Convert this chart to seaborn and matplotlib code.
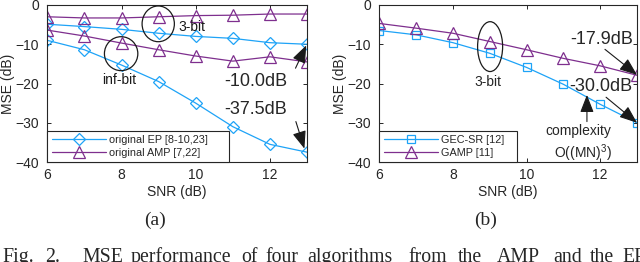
import numpy as np
import pandas as pd
import matplotlib
matplotlib.use("Agg")
import matplotlib.pyplot as plt
from matplotlib.patches import Ellipse
from matplotlib.lines import Line2D
import seaborn as sns

# ---------------- data ----------------
snr = [6, 7, 8, 9, 10, 11, 12, 13]
ep_3bit = [-4.9, -5.5, -6.2, -7.2, -8.0, -8.5, -9.6, -10.0]
ep_inf = [-9.0, -11.4, -15.3, -19.5, -25.0, -31.0, -35.5, -37.5]
amp_3bit = [-3.0, -3.3, -3.3, -3.0, -2.7, -2.6, -2.3, -2.3]
amp_inf = [-6.4, -7.9, -9.7, -11.4, -13.0, -14.3, -13.2, -14.5]
gamp = [-4.7, -5.9, -7.2, -9.3, -11.4, -13.6, -15.5, -17.9]
gec_sr = [-6.5, -7.6, -9.6, -12.3, -15.9, -20.2, -25.3, -30.0]

labels_a = ["original EP [8-10,23]", "original AMP [7,22]"]
labels_b = ["GEC-SR [12]", "GAMP [11]"]
xticks = [6, 8, 10, 12]
yticks = [0, -10, -20, -30, -40]

sns.set_theme(style="ticks")
plt.rcParams["font.family"] = ["Liberation Sans", "DejaVu Sans"]
plt.rcParams["mathtext.fontset"] = "custom"
plt.rcParams["mathtext.rm"] = "Liberation Sans"
plt.rcParams["mathtext.default"] = "regular"

BLUE = "#1ea3f7"
PURPLE = "#7e2f8e"
DARK = "#262626"

fig = plt.figure(figsize=(6.4, 2.62), dpi=100)
axA = fig.add_axes([47.3 / 640, 100 / 262, 259.7 / 640, 157 / 262])
axB = fig.add_axes([379.3 / 640, 100 / 262, 257.7 / 640, 157 / 262])

lw = 0.9
mew = 0.9


def series(ax, y, color, marker, ms):
    df = pd.DataFrame({"SNR": snr, "MSE": y})
    sns.lineplot(data=df, x="SNR", y="MSE", ax=ax, color=color, lw=lw,
                 marker=marker, ms=ms, mfc="none", mec=color, mew=mew,
                 legend=False)


series(axA, ep_3bit, BLUE, "D", 6.0)
series(axA, ep_inf, BLUE, "D", 6.0)
series(axA, amp_3bit, PURPLE, "^", 8.0)
series(axA, amp_inf, PURPLE, "^", 8.0)
series(axB, gec_sr, BLUE, "s", 6.0)
series(axB, gamp, PURPLE, "^", 8.0)

for ax in (axA, axB):
    ax.set_xlim(6, 13)
    ax.set_ylim(-40, 0)
    ax.set_xticks(xticks)
    ax.set_yticks(yticks)
    ax.tick_params(direction="in", length=3, width=0.7, colors=DARK,
                   labelsize=10, top=True, right=True)
    ax.tick_params(axis="x", pad=4.5)
    ax.tick_params(axis="y", pad=6)
    for s in ax.spines.values():
        s.set_visible(True)
        s.set_linewidth(0.8)
        s.set_color(DARK)
    ax.set_xlabel("SNR (dB)", fontsize=10, color=DARK)
    ax.set_ylabel("MSE (dB)", fontsize=10, color=DARK)
    ax.xaxis.set_label_coords(0.5, -0.148)
    ax.yaxis.set_label_coords(-0.125, 0.5)


def legend(ax, labels, markers, sizes, width):
    handles = [Line2D([], [], color=c, lw=lw, marker=m, ms=s, mfc="none",
                      mec=c, mew=mew)
               for c, m, s in zip([BLUE, PURPLE], markers, sizes)]
    leg = ax.legend(handles, labels, loc="lower left",
                    bbox_to_anchor=(0, 0, width, 0.22), mode="expand",
                    borderaxespad=0, fontsize=7.8, handlelength=5.0,
                    handletextpad=0.3, labelspacing=0.25, borderpad=0.4,
                    numpoints=1, fancybox=False, framealpha=1,
                    edgecolor=DARK)
    leg.get_frame().set_linewidth(0.8)
    for t in leg.get_texts():
        t.set_color(DARK)


legend(axA, labels_a, ["D", "^"], [6.0, 8.0], 0.70)
legend(axB, labels_b, ["s", "^"], [6.0, 8.0], 0.533)

# ---------------- annotations ----------------
arrow = dict(arrowstyle="-|>,head_length=0.9,head_width=0.35",
             mutation_scale=12, lw=0.8, color="k", shrinkA=0, shrinkB=0)

axA.add_patch(Ellipse((8.99, -4.8), 0.87, 9.1, fill=False, lw=0.9,
                      ec="k", zorder=5))
axA.add_patch(Ellipse((7.99, -12.4), 0.90, 8.65, fill=False, lw=0.9,
                      ec="k", zorder=5))
axA.text(9.53, -5.6, "3-bit", fontsize=10, ha="left", va="center", color="k")
axA.text(7.94, -19.1, "inf-bit", fontsize=10, ha="center", va="center",
         color="k")
axA.text(10.77, -19.5, "-10.0dB", fontsize=13, ha="left", va="center")
axA.text(10.77, -26.5, "-37.5dB", fontsize=13, ha="left", va="center")
axA.annotate("", xy=(12.98, -10.3), xytext=(12.69, -16.1),
             arrowprops=arrow, annotation_clip=False)
axA.annotate("", xy=(12.93, -36.6), xytext=(12.70, -29.7),
             arrowprops=arrow, annotation_clip=False)

axB.add_patch(Ellipse((9.01, -10.6), 0.68, 12.7, fill=False, lw=0.9,
                      ec="k", zorder=5))
axB.text(8.95, -19.5, "3-bit", fontsize=10, ha="center", va="center")
axB.text(11.18, -8.9, "-17.9dB", fontsize=13, ha="left", va="center")
axB.text(11.16, -20.8, "-30.0dB", fontsize=13, ha="left", va="center")
axB.text(11.4, -32.2, "complexity", fontsize=10, ha="center", va="center")
axB.text(11.54, -37.7, r"O((MN)$^{3}$)", fontsize=10, ha="center",
         va="center")
axB.annotate("", xy=(13.0, -17.8), xytext=(12.13, -11.3),
             arrowprops=arrow, annotation_clip=False)
axB.annotate("", xy=(13.0, -30.0), xytext=(12.16, -23.5),
             arrowprops=arrow, annotation_clip=False)
axB.annotate("", xy=(11.64, -22.9), xytext=(11.64, -29.7),
             arrowprops=arrow, annotation_clip=False)

# ---------------- sub-captions & caption ----------------
serif = ["Liberation Serif", "DejaVu Serif"]
fig.text(155 / 640, (262 - 220) / 262, "(a)", family=serif, fontsize=14,
         ha="center", va="center")
fig.text(486 / 640, (262 - 220) / 262, "(b)", family=serif, fontsize=14,
         ha="center", va="center")

words = ["Fig.", "2.", "MSE", "performance", "of", "four", "algorithms",
         "from", "the", "AMP", "and", "the", "EP"]
word_x = [2, 45, 82, 131, 241, 265, 307, 408, 458, 497, 553, 590, 622]
for w, x in zip(words, word_x):
    fig.text(x / 640, 0.0, w, family=serif, fontsize=14.3,
             ha="left", va="baseline")

fig.savefig("out.png", dpi=100)
